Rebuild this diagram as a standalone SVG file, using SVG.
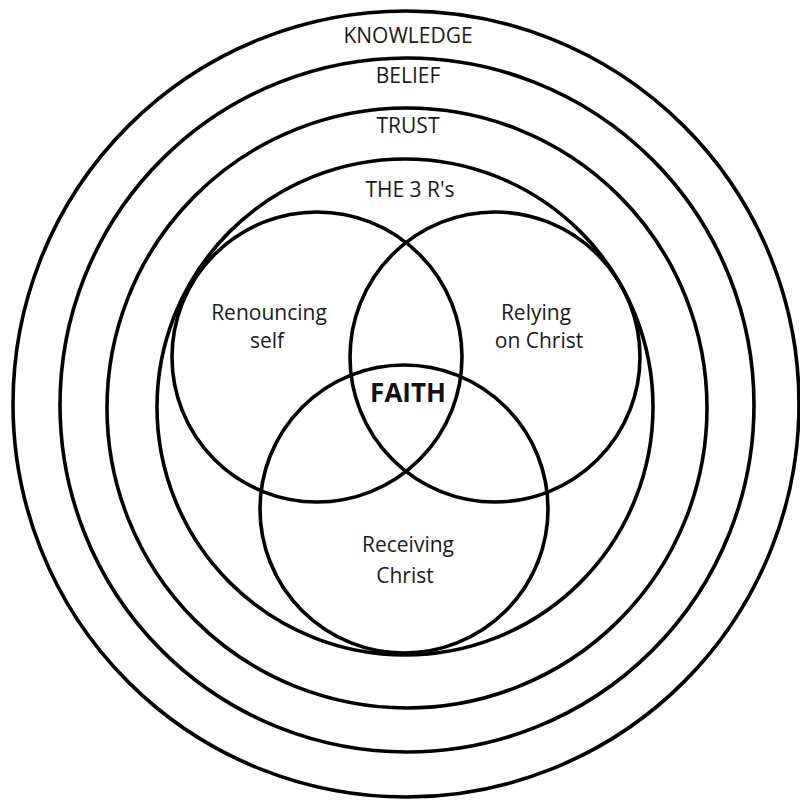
<svg xmlns="http://www.w3.org/2000/svg" width="800" height="801" viewBox="0 0 800 801">
<style>
.ring{fill:none;stroke:#000;stroke-width:3.6}
.lbl{font-family:"Open Sans","Liberation Sans",sans-serif;font-size:21px;fill:#1a1a1a;text-anchor:middle}
.big{font-family:"Open Sans","Liberation Sans",sans-serif;font-size:26px;font-weight:bold;fill:#111;text-anchor:middle}
</style>
<rect width="800" height="801" fill="#fff"/>
<g id="knowledge"><circle class="ring" cx="406" cy="404" r="393"/><text class="lbl" x="408" y="43">KNOWLEDGE</text></g>
<g id="belief"><circle class="ring" cx="407" cy="405" r="347"/><text class="lbl" x="408" y="83">BELIEF</text></g>
<g id="trust"><circle class="ring" cx="407" cy="408" r="300"/><text class="lbl" x="408" y="133">TRUST</text></g>
<g id="three-rs"><circle class="ring" cx="405" cy="407" r="248"/><text class="lbl" x="410" y="197">THE 3 R's</text></g>
<g id="renouncing"><circle class="ring" cx="317" cy="357" r="145"/><text class="lbl" x="269" y="320">Renouncing</text><text class="lbl" x="267" y="348">self</text></g>
<g id="relying"><circle class="ring" cx="495" cy="357" r="145"/><text class="lbl" x="536" y="320">Relying</text><text class="lbl" x="539" y="348">on Christ</text></g>
<g id="receiving"><circle class="ring" cx="404" cy="509" r="144"/><text class="lbl" x="408" y="552">Receiving</text><text class="lbl" x="405" y="583">Christ</text></g>
<g id="faith"><text class="big" x="408" y="402">FAITH</text></g>
<g id="connectors"></g>
</svg>
